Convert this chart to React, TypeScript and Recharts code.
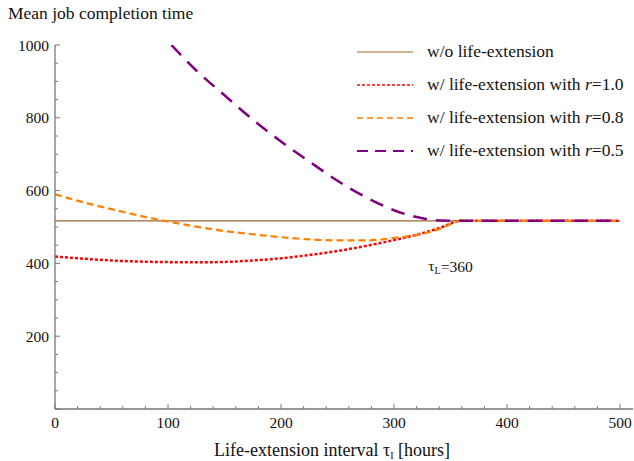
import { Line, LineChart, XAxis, YAxis, ReferenceDot } from "recharts";

const tGrid = [0, 25, 50, 75, 100, 125, 150, 175, 200, 225, 250, 275, 300, 325, 340, 360, 400, 450, 500];
const noExtension = [517, 517, 517, 517, 517, 517, 517, 517, 517, 517, 517, 517, 517, 517, 517, 517, 517, 517, 517];
const r10 = [419, 413, 408, 405, 403.5, 403, 404, 408, 414, 423, 434, 448, 464, 483, 497, 517, 517, 517, 517];
const r08 = [590, 568, 549, 531, 515, 501, 489, 480, 472, 466, 463, 463, 470, 481, 494, 517, 517, 517, 517];

const tPurple = [103, 125, 150, 175, 200, 225, 250, 275, 300, 325, 340, 360, 400, 450, 500];
const r05 = [1000, 930, 862, 795, 735, 680, 627, 582, 546, 524, 518, 517, 517, 517, 517];

const xTicks = [0, 20, 40, 60, 80, 100, 120, 140, 160, 180, 200, 220, 240, 260, 280, 300, 320, 340, 360, 380, 400, 420, 440, 460, 480, 500];
const yTicks = [0, 50, 100, 150, 200, 250, 300, 350, 400, 450, 500, 550, 600, 650, 700, 750, 800, 850, 900, 950, 1000];

const tauL = 360;
const tauLabelAt = { x: 350, y: 393 };

const mainData = tGrid.map((t, i) => ({ t, base: noExtension[i], r10: r10[i], r08: r08[i] }));
const purpleData = tPurple.map((t, i) => ({ t, r05: r05[i] }));

const font = "'Liberation Serif', 'Times New Roman', serif";
const axisColor = "#777";

const legendItems = [
  { label: "w/o life-extension", r: null, color: "#996633", dash: undefined, width: 1.2 },
  { label: "w/ life-extension with ", r: "1.0", color: "#ff0000", dash: "3 2", width: 1.5 },
  { label: "w/ life-extension with ", r: "0.8", color: "#ff8000", dash: "6 4", width: 1.5 },
  { label: "w/ life-extension with ", r: "0.5", color: "#800080", dash: "11 7", width: 2 },
];

function XTick(props: any) {
  const { x, y, payload } = props;
  const v = payload.value;
  const major = v % 100 === 0;
  return (
    <g>
      <line x1={x} x2={x} y1={y} y2={y - (major ? 5 : 3)} stroke={axisColor} strokeWidth={1} />
      {major && (
        <text x={x} y={y + 13} textAnchor="middle" dominantBaseline="central" fontFamily={font} fontSize={15.5} fill="#111">
          {v}
        </text>
      )}
    </g>
  );
}

function YTick(props: any) {
  const { x, y, payload } = props;
  const v = payload.value;
  const major = v % 200 === 0;
  return (
    <g>
      <line x1={x} x2={x + (major ? 5 : 3)} y1={y} y2={y} stroke={axisColor} strokeWidth={1} />
      {major && v > 0 && (
        <text x={x - 6} y={y} textAnchor="end" dominantBaseline="central" fontFamily={font} fontSize={15.5} fill="#111">
          {v}
        </text>
      )}
    </g>
  );
}

function LegendBox() {
  return (
    <div style={{ position: "absolute", left: 357, top: 35, fontFamily: font, fontSize: 17.5, color: "#111" }}>
      {legendItems.map((it) => (
        <div key={it.color} style={{ display: "flex", alignItems: "center", height: 33, whiteSpace: "nowrap" }}>
          <svg width={56} height={10} style={{ marginRight: 14 }}>
            <line x1={0} x2={56} y1={5} y2={5} stroke={it.color} strokeWidth={it.width} strokeDasharray={it.dash} />
          </svg>
          <span>
            {it.label}
            {it.r && (
              <>
                <i>r</i>={it.r}
              </>
            )}
          </span>
        </div>
      ))}
    </div>
  );
}

function TauLabel(props: any) {
  const { viewBox } = props;
  const cx = viewBox.x + (viewBox.width || 0) / 2;
  const cy = viewBox.y + (viewBox.height || 0) / 2;
  return (
    <text x={cx} y={cy} textAnchor="middle" dominantBaseline="central" fontFamily={font} fontSize={15.5} fill="#111">
      τ<tspan fontSize={10} dy={4}>L</tspan>
      <tspan dy={-4}>={tauL}</tspan>
    </text>
  );
}

export default function App() {
  return (
    <div style={{ position: "relative", width: 634, height: 461, background: "#fff", overflow: "hidden" }}>
      <style>{`body{margin:0}`}</style>
      <LineChart width={634} height={461} margin={{ top: 45, right: 1, bottom: 0, left: 0 }}>
        <XAxis
          type="number"
          dataKey="t"
          domain={[0, 511.5]}
          ticks={xTicks}
          interval={0}
          tick={<XTick />}
          tickLine={false}
          tickSize={0}
          tickMargin={0}
          height={52}
          axisLine={{ stroke: axisColor, strokeWidth: 1.3 }}
          allowDataOverflow
        />
        <YAxis
          type="number"
          domain={[0, 1000]}
          ticks={yTicks}
          interval={0}
          tick={<YTick />}
          tickLine={false}
          tickSize={0}
          tickMargin={0}
          width={55}
          axisLine={{ stroke: axisColor, strokeWidth: 1.3 }}
          allowDataOverflow
        />
        <Line data={mainData} dataKey="base" type="linear" stroke="#996633" strokeWidth={1.2} dot={false} isAnimationActive={false} />
        <Line data={mainData} dataKey="r10" type="monotone" stroke="#ff0000" strokeWidth={2.5} strokeDasharray="3 2" dot={false} isAnimationActive={false} />
        <Line data={mainData} dataKey="r08" type="monotone" stroke="#ff8000" strokeWidth={2.2} strokeDasharray="7 4" dot={false} isAnimationActive={false} />
        <Line data={purpleData} dataKey="r05" type="monotone" stroke="#800080" strokeWidth={2.5} strokeDasharray="14 9" dot={false} isAnimationActive={false} />
        <ReferenceDot x={tauLabelAt.x} y={tauLabelAt.y} r={0} fill="none" stroke="none" label={<TauLabel />} />
      </LineChart>
      <LegendBox />
      <div style={{ position: "absolute", left: 8, top: 3, fontFamily: font, fontSize: 17.5, color: "#111" }}>
        Mean job completion time
      </div>
      <div style={{ position: "absolute", left: 0, width: 634, top: 441, lineHeight: "18px", textAlign: "center", fontFamily: font, fontSize: 18, color: "#111", paddingLeft: 30, boxSizing: "border-box" }}>
        Life-extension interval τ
        <span style={{ fontSize: 10, position: "relative", top: 3, lineHeight: 0 }}>I</span> [hours]
      </div>
    </div>
  );
}
